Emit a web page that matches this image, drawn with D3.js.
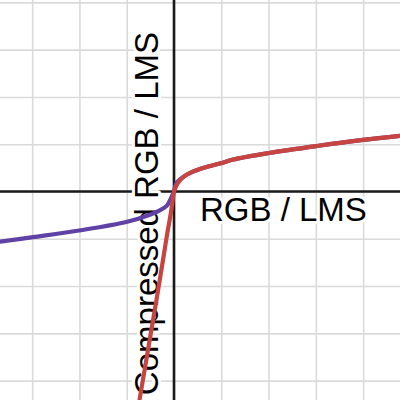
<!DOCTYPE html>
<html>
<head>
<meta charset="utf-8">
<script src="https://cdn.jsdelivr.net/npm/d3@7"></script>
<style>
  html, body { margin: 0; padding: 0; background: #fff; }
  svg { display: block; }
</style>
</head>
<body>
<div id="mydraw"></div>
<script>

///////////////////////////////////////////////
// data (grid units)

var xGrid = [-3, -2, -1, 0, 1, 2, 3, 4];
var yGrid = [-4, -3, -2, -1, 0, 1, 2, 3, 4];

// purple curve: odd extension, runs across the whole view
var purpleX = [-3.68, -2.98, -1.97, -0.99, -0.51, -0.30, -0.15, -0.063, 0,
               0.042, 0.127, 0.275, 0.55, 0.97, 1.25, 2.01, 3.02, 4.0, 4.78];
var purpleY = [-1.06, -0.965, -0.82, -0.64, -0.49, -0.40, -0.30, -0.14, 0,
               0.16, 0.255, 0.36, 0.476, 0.59, 0.675, 0.814, 0.962, 1.09, 1.175];

// red curve: steep line below zero, same compression above it
var redX = [-0.77, -0.73, -0.55, -0.37, -0.233, -0.148, -0.074, -0.032, 0,
            0.05, 0.13, 0.275, 0.55, 0.97, 1.25, 2.01, 3.02, 4.0, 4.78];
var redY = [-4.62, -4.41, -3.35, -2.29, -1.45, -0.92, -0.50, -0.22, 0,
            0.12, 0.24, 0.36, 0.476, 0.59, 0.675, 0.814, 0.962, 1.09, 1.175];

var xLabel = "RGB / LMS";
var yLabel = "Compressed RGB / LMS";


///////////////////////////////////
// the chart itself

var width = 400, height = 400;

var x = d3.scaleLinear().domain([-3.68, 4.78]).range([0, width]);
var y = d3.scaleLinear().domain([-4.41, 4.05]).range([height, 0]);

var svg = d3.select("div#mydraw").append("svg")
    .attr("width", width)
    .attr("height", height);

// ---------------
// grid

svg.append("g")
    .attr("class", "grid")
    .call(d3.axisBottom(x).tickValues(xGrid).tickSize(height).tickFormat(""))
    .call(function(g) { g.select(".domain").remove(); })
    .selectAll("line")
    .attr("stroke", "#dadada")
    .attr("stroke-width", 1.6);

svg.append("g")
    .attr("class", "grid")
    .call(d3.axisRight(y).tickValues(yGrid).tickSize(width).tickFormat(""))
    .call(function(g) { g.select(".domain").remove(); })
    .selectAll("line")
    .attr("stroke", "#dadada")
    .attr("stroke-width", 1.6);

// ---------------
// axes through the origin

svg.append("line")
    .attr("x1", 0).attr("x2", width)
    .attr("y1", y(0)).attr("y2", y(0))
    .attr("stroke", "#1a1a1a")
    .attr("stroke-width", 2.6);

svg.append("line")
    .attr("x1", x(0)).attr("x2", x(0))
    .attr("y1", 0).attr("y2", height)
    .attr("stroke", "#1a1a1a")
    .attr("stroke-width", 2.6);

// ---------------
// labels, white halo hides grid behind them

svg.append("text")
    .attr("x", x(0) + 26)
    .attr("y", y(0) + 30)
    .attr("font-family", "Liberation Sans, Arial, sans-serif")
    .attr("font-size", 33)
    .attr("fill", "#000")
    .attr("stroke", "#fff")
    .attr("stroke-width", 6)
    .attr("stroke-linejoin", "round")
    .attr("paint-order", "stroke")
    .text(xLabel);

svg.append("text")
    .attr("transform", "translate(" + (x(0) - 16) + ",32) rotate(-90)")
    .attr("text-anchor", "end")
    .attr("font-family", "Liberation Sans, Arial, sans-serif")
    .attr("font-size", 33)
    .attr("fill", "#000")
    .attr("stroke", "#fff")
    .attr("stroke-width", 6)
    .attr("stroke-linejoin", "round")
    .attr("paint-order", "stroke")
    .text(yLabel);

// ---------------
// curves

var line = d3.line()
    .x(function(d) { return x(d[0]); })
    .y(function(d) { return y(d[1]); })
    .curve(d3.curveCatmullRom.alpha(0.5));

svg.append("path")
    .datum(d3.zip(purpleX, purpleY))
    .attr("d", line)
    .attr("fill", "none")
    .attr("stroke", "#6042a6")
    .attr("stroke-width", 4.2)
    .attr("stroke-linecap", "round");

svg.append("path")
    .datum(d3.zip(redX, redY))
    .attr("d", line)
    .attr("fill", "none")
    .attr("stroke", "#c74440")
    .attr("stroke-width", 4.2)
    .attr("stroke-linecap", "round");

</script>
</body>
</html>
